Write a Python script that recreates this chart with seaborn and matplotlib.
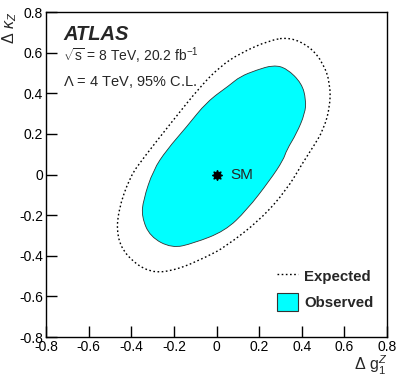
import pandas as pd
import matplotlib
matplotlib.use('Agg')
import matplotlib.pyplot as plt
import seaborn as sns
from matplotlib.lines import Line2D
from matplotlib.patches import Patch, PathPatch
from matplotlib.path import Path

# 95% CL contours (delta g1Z, delta kappaZ)
obs_g1z = [0.267, 0.329, 0.400, 0.420, 0.415, 0.376, 0.329, 0.313, 0.251, 0.142, 0.040,
           -0.109, -0.210, -0.312, -0.351, -0.344, -0.297, -0.234, -0.140, -0.046,
           0.063, 0.110, 0.189]
obs_kz = [0.539, 0.523, 0.449, 0.367, 0.301, 0.203, 0.121, 0.071, -0.027, -0.175, -0.278,
          -0.339, -0.363, -0.306, -0.208, -0.126, 0.022, 0.121, 0.235, 0.358,
          0.441, 0.482, 0.515]

exp_g1z = [0.345, 0.439, 0.501, 0.533, 0.533, 0.501, 0.454, 0.407, 0.329, 0.204, 0.040,
           -0.046, -0.187, -0.312, -0.421, -0.468, -0.461, -0.406, -0.344, -0.203,
           -0.077, 0.016, 0.110, 0.251]
exp_kz = [0.676, 0.629, 0.548, 0.449, 0.334, 0.219, 0.137, 0.062, -0.076, -0.224, -0.357,
          -0.405, -0.470, -0.486, -0.405, -0.306, -0.175, -0.011, 0.080, 0.268,
          0.432, 0.531, 0.597, 0.662]

sm_g1z = [0.0]
sm_kz = [0.0]
ticks = [-0.8, -0.6, -0.4, -0.2, 0, 0.2, 0.4, 0.6, 0.8]
tick_labels = ['-0.8', '-0.6', '-0.4', '-0.2', '0', '0.2', '0.4', '0.6', '0.8']

sns.set_style('white')
plt.rcParams['font.family'] = ['Liberation Sans', 'DejaVu Sans']
plt.rcParams['mathtext.fontset'] = 'custom'
plt.rcParams['mathtext.rm'] = 'Liberation Sans'
plt.rcParams['mathtext.it'] = 'Liberation Sans:italic'


def closed_curve(xs, ys):
    # quadratic bezier through the midpoints, read points act as control points
    pts = list(zip(xs, ys))
    n = len(pts)
    mids = [((pts[i][0] + pts[(i + 1) % n][0]) / 2, (pts[i][1] + pts[(i + 1) % n][1]) / 2)
            for i in range(n)]
    verts = [mids[-1]]
    codes = [Path.MOVETO]
    for i in range(n):
        verts += [pts[i], mids[i]]
        codes += [Path.CURVE3, Path.CURVE3]
    return Path(verts, codes)


fig = plt.figure(figsize=(3.97, 3.76), dpi=100)
ax = fig.add_axes([0.1159, 0.1037, 0.859, 0.8643])

obs = pd.DataFrame({'g1z': obs_g1z, 'kz': obs_kz})
exp = pd.DataFrame({'g1z': exp_g1z, 'kz': exp_kz})
sm = pd.DataFrame({'g1z': sm_g1z, 'kz': sm_kz})

ax.add_patch(PathPatch(closed_curve(obs['g1z'], obs['kz']), facecolor='#00ffff',
                       edgecolor='#333333', lw=0.6, zorder=1))
ax.add_patch(PathPatch(closed_curve(exp['g1z'], exp['kz']), fill=False,
                       edgecolor='black', lw=1.0, linestyle=(0, (1.2, 1.8)), zorder=2))

sns.scatterplot(data=sm, x='g1z', y='kz', marker=(8, 1, 0), s=45, color='black',
                edgecolor='black', linewidth=1.2, ax=ax, zorder=3)
ax.text(sm_g1z[0] + 0.065, sm_kz[0], 'SM', fontsize=11, va='center', ha='left')

ax.set_xlim(-0.8, 0.8)
ax.set_ylim(-0.8, 0.8)
ax.set_xticks(ticks)
ax.set_xticklabels(tick_labels)
ax.set_yticks(ticks)
ax.set_yticklabels(tick_labels)
ax.tick_params(direction='in', length=8, width=1, labelsize=10, colors='black',
               bottom=True, left=True, top=False, right=False, pad=2)
for s in ax.spines.values():
    s.set_color('black')
    s.set_linewidth(1.0)

ax.set_xlabel(r'$\Delta\ \mathrm{g}_{1}^{Z}$', fontsize=11.5, loc='right', labelpad=0)
ax.set_ylabel(r'$\Delta\ \kappa_{Z}$', fontsize=11.5, loc='top', labelpad=0)

ax.text(0.05, 0.96, 'ATLAS', transform=ax.transAxes, fontsize=14.5, fontweight='bold',
        fontstyle='italic', va='top')
ax.text(0.05, 0.865, r'$\sqrt{\mathrm{s}}$ = 8 TeV, 20.2 fb$^{-1}$', transform=ax.transAxes,
        fontsize=10, va='center')
ax.text(0.05, 0.785, r'$\Lambda$ = 4 TeV, 95% C.L.', transform=ax.transAxes,
        fontsize=10.5, va='center')

handles = [Line2D([], [], color='black', lw=1.0, linestyle=(0, (1.2, 1.8))),
           Patch(facecolor='#00ffff', edgecolor='#333333', lw=0.8)]
ax.legend(handles, ['Expected', 'Observed'], loc='lower right', frameon=False,
          prop={'weight': 'bold', 'size': 10.8}, handlelength=1.4, handleheight=1.4,
          handletextpad=0.4, labelspacing=0.6, bbox_to_anchor=(1.0, 0.04))

fig.savefig('out.png', dpi=100)
